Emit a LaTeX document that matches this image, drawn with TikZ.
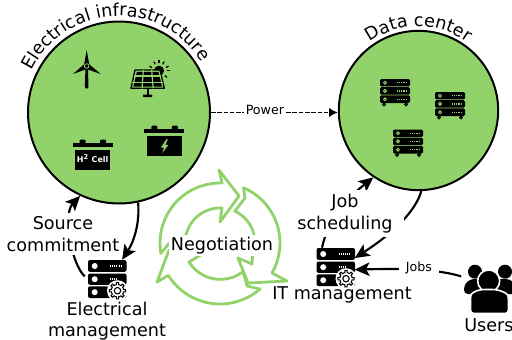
\documentclass[tikz,border=0pt]{standalone}
\usepackage{fontspec}
\setmainfont{DejaVu Sans}
\usepackage{xcolor}
\usetikzlibrary{arrows.meta}
\usetikzlibrary{decorations.text}
\definecolor{leaf}{HTML}{91D36A}
\newcommand{\labelfont}{\fontsize{13.2}{16}\selectfont}
\tikzset{
	zone/.style={circle,draw=black,fill=leaf,line width=1.5pt,inner sep=0pt},
	mgrbox/.style={rectangle,inner sep=0pt,minimum width=28.5pt,minimum height=28.5pt},
	flow/.style={black,line width=1.6pt,-{Stealth[length=11pt,width=10pt,inset=2.5pt]}},
	tag/.style={font=\labelfont,align=center,inner sep=1.5pt},
	smalltag/.style={font=\fontsize{9.5}{11}\selectfont,fill=white,inner sep=1.5pt},
	negarrow/.style={leaf,line width=2.1pt,line join=round},
	pics/rack/.style={code={
		\fill[black,rounded corners=1pt] (0,0) rectangle (30,7.4);
		\fill[black,rounded corners=1pt] (0,8.2) rectangle (30,15.6);
		\fill[black,rounded corners=1pt] (0,16.4) rectangle (30,24);
		\foreach \y in {3.7,11.9,20.2}
		{
			\draw[#1,line width=0.7pt] (5,\y) circle (1.5);
			\draw[#1,line width=1pt,dash pattern=on 0.7pt off 0.7pt] (17,\y) -- (27,\y);
		}
		\draw[black,line width=0.8pt] (4,25.4) circle (1.4);
		\draw[black,line width=0.8pt] (26,25.4) circle (1.4);
	}},
	pics/bigrack/.style={code={
		\fill[black,rounded corners=1.5pt] (0,0) rectangle (38.5,11.8);
		\fill[black,rounded corners=1.5pt] (0,13.5) rectangle (38.5,24.8);
		\fill[black,rounded corners=1.5pt] (0,26.3) rectangle (38.5,38);
		\foreach \y in {6,19.2,32.2}
		{
			\fill[white] (6.7,\y) circle (3);
		}
		\draw[white,line width=1.2pt,dash pattern=on 0.8pt off 0.8pt] (22,6) -- (34,6);
		\draw[white,line width=1.2pt,dash pattern=on 0.8pt off 0.8pt] (22,19.2) -- (30,19.2);
		\fill[white] (29.5,30.7) circle (10.5);
		\draw[black,line width=0.8pt,fill=white] plot[domain=0:360,samples=97] ({29.5+(cos(8*\x)>0?8.2:6.2)*cos(\x)},{30.7+(cos(8*\x)>0?8.2:6.2)*sin(\x)}) -- cycle;
		\draw[black,line width=0.8pt] (29.5,30.7) circle (3.2);
	}},
	pics/battery/.style={code={
		\fill[black] (0,3) rectangle (40,7.5);
		\fill[black,rounded corners=0.8pt] (7,0) rectangle (13,4);
		\fill[black,rounded corners=0.8pt] (27.5,0) rectangle (33.5,4);
		\fill[black] (2.7,10) rectangle (37.4,#1);
	}}
}

\begin{document}
\begin{tikzpicture}[x=0.75pt,y=-0.75pt]
\useasboundingbox (0,0) rectangle (512,340);

\node[zone,minimum size=136.5pt] (elecinfra) at (119,112.5) {};
\node[zone,minimum size=119.5pt] (datacenter) at (418.5,110.5) {};
\node[mgrbox] (elecmgr) at (107,279) {};
\node[mgrbox] (itmgr) at (335.5,267) {};
\node[rectangle,inner sep=0pt,minimum width=36pt,minimum height=42pt] (usersicon) at (488,285) {};
\coordinate (negcentre) at (220,243);

\path[decorate,decoration={text along path,text align=center,text={|\labelfont|Electrical infrastructure}}] (elecinfra.center) ++(202:96.5) arc[start angle=202,end angle=332,radius=96.5];
\path[decorate,decoration={text along path,text align=center,text={|\labelfont|Data center}}] (datacenter.center) ++(222:84) arc[start angle=222,end angle=318,radius=84];

% wind turbine
\fill[black] (84.9,87) -- (85.5,66) -- (87.9,66) -- (88.5,87) arc[start angle=0,end angle=180,radius=1.8] -- cycle;
\fill[black] (86.7,50) -- (89,63) -- (84.4,63) -- cycle;
\fill[black] (73,74) -- (83.3,65) -- (85.4,69.5) -- cycle;
\fill[black] (100.7,74) -- (90.1,65) -- (88,69.5) -- cycle;
\fill[black] (86.7,66) circle (3.6);
\draw[leaf,line width=0.6pt] (86.7,66) circle (2.3);

% solar panel
\fill[black] (159,70.7) circle (5);
\foreach \a in {-90,-60,-120,-25,-155,0,40}
{
	\draw[black,line width=0.9pt] (159,70.7)++(\a:7.5) -- +(\a:3);
}
\draw[black,fill=leaf,line width=1pt,line join=round] (135,70) -- (160,70) -- (164.3,88.3) -- (131,88.3) -- cycle;
\fill[black] (136.9,71.9) -- (158.4,71.9) -- (162,86.6) -- (133.4,86.6) -- cycle;
\foreach \t in {0.333,0.667}
{
	\draw[leaf,line width=0.9pt] ({135+\t*25},70) -- ({131+\t*33.3},88.3);
	\draw[leaf,line width=0.9pt] ({135-\t*4},{70+\t*18.3}) -- ({160+\t*4.3},{70+\t*18.3});
}
\fill[black] (146.6,88) rectangle (148.8,95);
\fill[black,rounded corners=0.5pt] (143,94.5) rectangle (152.4,97);

% batteries
\pic at (72.5,139.5) {battery=30.5};
\pic at (144.3,125.7) {battery=30};
\node[white,font=\bfseries\fontsize{6}{7}\selectfont,inner sep=0pt] (h2cell) at (92.7,158.5) {H\textsuperscript{2} Cell};
\fill[leaf] (166.5,139) -- (161,147.5) -- (164,147.5) -- (162.2,153) -- (168.5,144.8) -- (165.4,144.8) -- (167.8,139) -- cycle;

% racks
\pic at (380,79) {rack=leaf};
\pic at (435,92) {rack=leaf};
\pic at (393,129.5) {rack=leaf};
\pic at (88,260) {bigrack};
\pic at (316.5,248) {bigrack};

% users
\fill[black] (475,271.7) circle (7);
\fill[black] (505,271.7) circle (7);
\fill[black,rounded corners=3pt] (464,294) -- (464,285) -- (470,279) -- (510,279) -- (516,285) -- (516,294) -- cycle;
\fill[black,draw=white,line width=1.2pt] (488.7,281) circle (11);
\fill[black,draw=white,line width=1.2pt,rounded corners=2.5pt] (470.5,313.5) -- (470.5,299) .. controls (471,293) and (476,291) .. (481,289.5) -- (496,289.5) .. controls (501,291) and (507.5,293) .. (508.5,299) -- (508.5,313.5) -- cycle;

% negotiation arrows
\draw[negarrow] (negcentre) ++(170:60) arc[start angle=170,end angle=272,radius=60] -- (219,170) -- (239,196) -- (220,222) -- (222,208) arc[start angle=273,end angle=193,radius=35] -- (168.6,244) -- cycle;
\draw[negarrow] (negcentre) ++(293:60) arc[start angle=293,end angle=390,radius=60] -- (287,281) -- (248,283) -- (238,258) -- (252,264) -- (252.5,256) arc[start angle=22,end angle=-65,radius=35] -- (245,198) -- cycle;
\draw[negarrow] (negcentre) ++(49:61) arc[start angle=49,end angle=148,radius=61] -- (157,282) -- (169,250) -- (204,253) -- (189,262) arc[start angle=148,end angle=52,radius=37] -- (247,286) -- cycle;
\node[tag,fill=white] (negotiation) at (222,245.5) {Negotiation};

% connectors
\draw[black,line width=1.4pt,dash pattern=on 3.5pt off 1.2pt,-{Latex[length=6.5pt,width=7pt]}] (elecinfra.east) -- (datacenter.west |- elecinfra.east) node[smalltag,pos=0.425,yshift=2pt] (power) {Power};
\draw[flow] (elecinfra.-78) .. controls (140,225) and (133,243) .. (elecmgr.52);
\draw[flow,shorten <=3pt] (elecmgr.west) .. controls (72,265) and (62,215) .. (elecinfra.-115);
\draw[flow] (datacenter.-88) .. controls (416,210) and (395,232) .. (itmgr.25);
\draw[flow] (itmgr.125) .. controls (328,220) and (345,200) .. (datacenter.-124);
\draw[flow,shorten <=2pt] (usersicon.162) .. controls (440,270) and (410,268) .. (itmgr.-8);

\node[smalltag,inner xsep=5pt] (jobs) at (419,268) {Jobs};
\node[tag,fill=white,minimum width=88pt,minimum height=35pt] (jobsched) at (345,213.5) {Job\\scheduling};
\node[tag,fill=white,inner xsep=3pt,inner ysep=3pt] (commitment) at (63,234) {Source\\commitment};
\node[tag] (elecmgrlabel) at (107,321) {Electrical\\management};
\node[tag] (itmgrlabel) at (342,295) {IT management};
\node[tag] (userslabel) at (489,325) {Users};
\end{tikzpicture}
\end{document}
